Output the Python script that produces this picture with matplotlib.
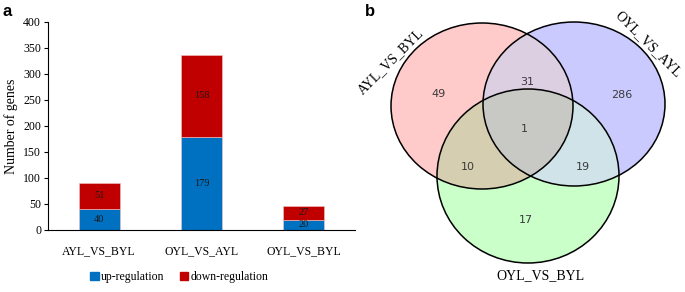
import numpy as np
import matplotlib
matplotlib.use("Agg")
import matplotlib.pyplot as plt
from matplotlib.patches import Ellipse, Polygon, Patch

# --- data ---
comparisons = ["AYL_VS_BYL", "OYL_VS_AYL", "OYL_VS_BYL"]
up_reg = [40, 179, 20]
down_reg = [51, 158, 27]

venn_sets = ["AYL_VS_BYL", "OYL_VS_AYL", "OYL_VS_BYL"]
venn_counts = {"100": 49, "010": 286, "001": 17, "110": 31,
               "101": 10, "011": 19, "111": 1}

plt.rcParams["font.family"] = ["Liberation Serif", "DejaVu Serif"]

fig = plt.figure(figsize=(6.85, 2.92), dpi=100)

# ---------------- panel a ----------------
ax1 = fig.add_axes([48 / 685, 62 / 292, 307 / 685, 208 / 292])
x = np.arange(len(comparisons))
b1 = ax1.bar(x, up_reg, width=0.4, color="#0070C0", edgecolor="#f2c8c8", linewidth=0.4)
b2 = ax1.bar(x, down_reg, width=0.4, bottom=up_reg, color="#C00000",
             edgecolor="#f2c8c8", linewidth=0.4)
ax1.bar_label(b1, label_type="center", fontsize=7.5, color="#1a1a1a")
ax1.bar_label(b2, label_type="center", fontsize=7.5, color="#1a1a1a")
ax1.set_xlim(-0.5, 2.5)
ax1.set_ylim(0, 400)
ax1.set_yticks(range(0, 401, 50))
ax1.set_xticks(x)
ax1.set_xticklabels(comparisons, fontsize=8.5)
ax1.tick_params(axis="x", length=0, pad=11)
ax1.tick_params(axis="y", direction="out", length=3, labelsize=8.5, pad=2)
for s in ["top", "right"]:
    ax1.spines[s].set_visible(False)
ax1.set_ylabel("Number of genes", fontsize=10, labelpad=4)

handles = [Patch(color="#0070C0", label="up-regulation"),
           Patch(color="#C00000", label="down-regulation")]
fig.legend(handles=handles, loc="center", bbox_to_anchor=(0.262, 0.05), ncol=2,
           frameon=False, fontsize=8.5, handlelength=0.7, handleheight=0.7,
           handletextpad=0.2, columnspacing=1.3)

fig.text(0.003, 0.985, "a", fontsize=12, fontweight="bold", va="top",
         family="Liberation Sans")
fig.text(0.533, 0.985, "b", fontsize=12, fontweight="bold", va="top",
         family="Liberation Sans")

# ---------------- panel b (venn) ----------------
ax2 = fig.add_axes([0, 0, 1, 1])
ax2.set_xlim(0, 685)
ax2.set_ylim(292, 0)
ax2.axis("off")
ax2.patch.set_visible(False)

# ellipse layout: (cx, cy, rx, ry)
ells = [(482, 106, 91, 83), (574, 104, 91, 82), (528, 176, 91, 87)]
region_col = {"100": "#ffcaca", "010": "#cacaff", "001": "#caffca",
              "110": "#dccfe2", "101": "#d6ceb0", "011": "#cfe3e8",
              "111": "#c8c8c4"}


def inside(p, e):
    cx, cy, rx, ry = e
    return ((p[:, 0] - cx) / rx) ** 2 + ((p[:, 1] - cy) / ry) ** 2 <= 1 + 1e-9


def boundary(e, n=720):
    cx, cy, rx, ry = e
    t = np.linspace(0, 2 * np.pi, n, endpoint=False)
    return np.column_stack([cx + rx * np.cos(t), cy + ry * np.sin(t)])


def intersection(es):
    pts = []
    for i, e in enumerate(es):
        b = boundary(e)
        mask = np.ones(len(b), bool)
        for j, f in enumerate(es):
            if j != i:
                mask &= inside(b, f)
        pts.append(b[mask])
    pts = np.vstack(pts)
    c = pts.mean(axis=0)
    ang = np.arctan2(pts[:, 1] - c[1], pts[:, 0] - c[0])
    return pts[np.argsort(ang)]


for i, key in enumerate(["100", "010", "001"]):
    cx, cy, rx, ry = ells[i]
    ax2.add_patch(Ellipse((cx, cy), 2 * rx, 2 * ry, facecolor=region_col[key],
                          edgecolor="none"))
for key, idx in [("110", [0, 1]), ("101", [0, 2]), ("011", [1, 2]), ("111", [0, 1, 2])]:
    poly = intersection([ells[k] for k in idx])
    ax2.add_patch(Polygon(poly, closed=True, facecolor=region_col[key],
                          edgecolor="none"))
for cx, cy, rx, ry in ells:
    ax2.add_patch(Ellipse((cx, cy), 2 * rx, 2 * ry, facecolor="none",
                          edgecolor="black", linewidth=1.1))

count_pos = {"100": (439, 94), "110": (527, 82), "010": (622, 95),
             "111": (524, 129), "101": (468, 167), "011": (583, 167),
             "001": (526, 220)}
for key, (px, py) in count_pos.items():
    ax2.text(px, py, str(venn_counts[key]), ha="center", va="center",
             fontsize=8, color="#3a3a3a", family="DejaVu Sans")

ax2.text(391, 62, venn_sets[0], rotation=45, ha="center", va="center", fontsize=10)
ax2.text(648, 44, venn_sets[1], rotation=-45, ha="center", va="center", fontsize=10)
ax2.text(540, 276, venn_sets[2], ha="center", va="center", fontsize=10)

fig.savefig("out.png", dpi=100)
